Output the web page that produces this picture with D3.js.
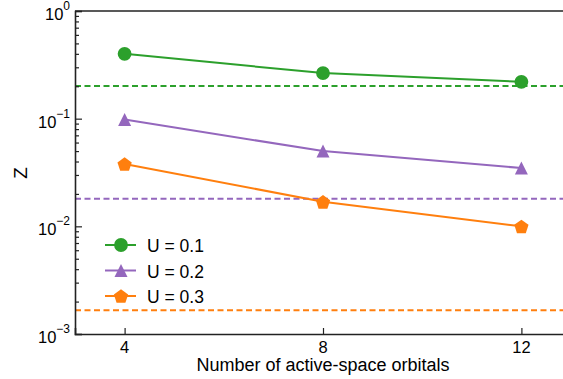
<!DOCTYPE html>
<html>
<head>
<meta charset="utf-8">
<script src="https://cdn.jsdelivr.net/npm/d3@7"></script>
<style>
  html, body { margin: 0; padding: 0; background: #fff; overflow: hidden; }
  svg { display: block; font-family: "Liberation Sans", Arial, sans-serif; overflow: hidden; }
</style>
</head>
<body>
<svg id="chart" width="563" height="379"></svg>
<script>
// Active-space sizes on the x axis
const orbitals = [4, 8, 12];
// Z for each interaction strength
const seriesNames = ["U = 0.1", "U = 0.2", "U = 0.3"];
const zU01 = [0.40, 0.265, 0.22];
const zU02 = [0.098, 0.050, 0.0348];
const zU03 = [0.038, 0.0169, 0.0100];
// Reference levels (dashed horizontal lines)
const refLevels = [0.201, 0.018, 0.00166];
const colors = ["#2ca02c", "#9467bd", "#ff7f0e"];
const markers = ["circle", "triangle", "pentagon"];
const xTicks = [4, 8, 12];
const yDecades = [-3, -2, -1, 0];

const svg = d3.select("#chart");
const plotL = 75, plotR = 571, plotT = 11, plotB = 334;

const x = d3.scaleLinear().domain([3, 13]).range([plotL, plotR]);
const y = d3.scaleLog().domain([1e-3, 1]).range([plotB, plotT]);

const series = [zU01, zU02, zU03].map((vals, i) => ({
  name: seriesNames[i], color: colors[i], marker: markers[i], ref: refLevels[i],
  points: orbitals.map((o, j) => ({ x: o, z: vals[j] }))
}));

function markerPath(kind) {
  if (kind === "circle") return d3.symbol(d3.symbolCircle, 150)();
  if (kind === "triangle") {
    const s = 6.5;
    return `M0,${-s}L${s},${s}L${-s},${s}Z`;
  }
  const r = 7.5, pts = [];
  for (let k = 0; k < 5; k++) {
    const a = -Math.PI / 2 + k * 2 * Math.PI / 5;
    pts.push([r * Math.cos(a), r * Math.sin(a) + 0.8]);
  }
  return "M" + pts.map(p => p.join(",")).join("L") + "Z";
}

// Dashed reference lines
svg.append("g").selectAll("line").data(series).join("line")
  .attr("x1", plotL).attr("x2", plotR)
  .attr("y1", d => y(d.ref)).attr("y2", d => y(d.ref))
  .attr("stroke", d => d.color).attr("stroke-width", 2)
  .attr("stroke-dasharray", "6,3.5");

// Series lines and markers
const line = d3.line().x(d => x(d.x)).y(d => y(d.z));
const g = svg.append("g").selectAll("g").data(series).join("g");
g.append("path").attr("d", d => line(d.points))
  .attr("fill", "none").attr("stroke", d => d.color).attr("stroke-width", 2);
g.each(function (s) {
  d3.select(this).selectAll(".m").data(s.points).join("path")
    .attr("class", "m")
    .attr("transform", d => `translate(${x(d.x)},${y(d.z)})`)
    .attr("d", markerPath(s.marker))
    .attr("fill", s.color);
});

// Axes (ticks pointing inward)
const ya = svg.append("g").attr("transform", `translate(${plotL},0)`)
  .call(d3.axisLeft(y).tickValues(yDecades.map(e => Math.pow(10, e)))
    .tickSize(-7).tickFormat(""));

const minor = [];
for (let e = -3; e < 0; e++) for (let m = 2; m <= 9; m++) minor.push(m * Math.pow(10, e));
const ym = svg.append("g").attr("transform", `translate(${plotL},0)`)
  .call(d3.axisLeft(y).tickValues(minor).tickSize(-4).tickFormat(""));
ym.select(".domain").remove();

const xa = svg.append("g").attr("transform", `translate(0,${plotB})`)
  .call(d3.axisBottom(x).tickValues(xTicks).tickSize(-6).tickFormat(""));

[ya, ym, xa].forEach(a => {
  a.selectAll("line").attr("stroke", "#222").attr("stroke-width", 1.2);
  a.selectAll(".domain").attr("stroke", "#222").attr("stroke-width", 1.6);
});
// top spine
svg.append("line").attr("x1", plotL).attr("x2", plotR).attr("y1", plotT).attr("y2", plotT)
  .attr("stroke", "#222").attr("stroke-width", 1.6);

// Tick labels
svg.append("g").selectAll("text").data(xTicks).join("text")
  .attr("x", d => x(d)).attr("y", 353).attr("text-anchor", "middle")
  .attr("font-size", 16.5).text(d => d);

const yl = svg.append("g").selectAll("text").data(yDecades).join("text")
  .attr("x", 70).attr("y", d => y(Math.pow(10, d)) + 9)
  .attr("text-anchor", "end").attr("font-size", 16.5);
yl.append("tspan").text("10");
yl.append("tspan").attr("dy", -10).attr("font-size", 12)
  .text(d => d === 0 ? "0" : "\u2212" + Math.abs(d));

// Axis titles
svg.append("text").attr("x", 323).attr("y", 371).attr("text-anchor", "middle")
  .attr("font-size", 18).text("Number of active-space orbitals");
svg.append("text").attr("transform", "translate(27,173) rotate(-90)")
  .attr("text-anchor", "middle").attr("font-size", 19).text("Z");

// Legend
const lg = svg.append("g").selectAll("g").data(series).join("g")
  .attr("transform", (d, i) => `translate(105,${245 + i * 25.5})`);
lg.append("line").attr("x1", 0).attr("x2", 31)
  .attr("stroke", d => d.color).attr("stroke-width", 2);
lg.append("path").attr("transform", "translate(16,0)")
  .attr("d", d => markerPath(d.marker)).attr("fill", d => d.color);
lg.append("text").attr("x", 42).attr("y", 7).attr("font-size", 17.5).text(d => d.name);
</script>
</body>
</html>
